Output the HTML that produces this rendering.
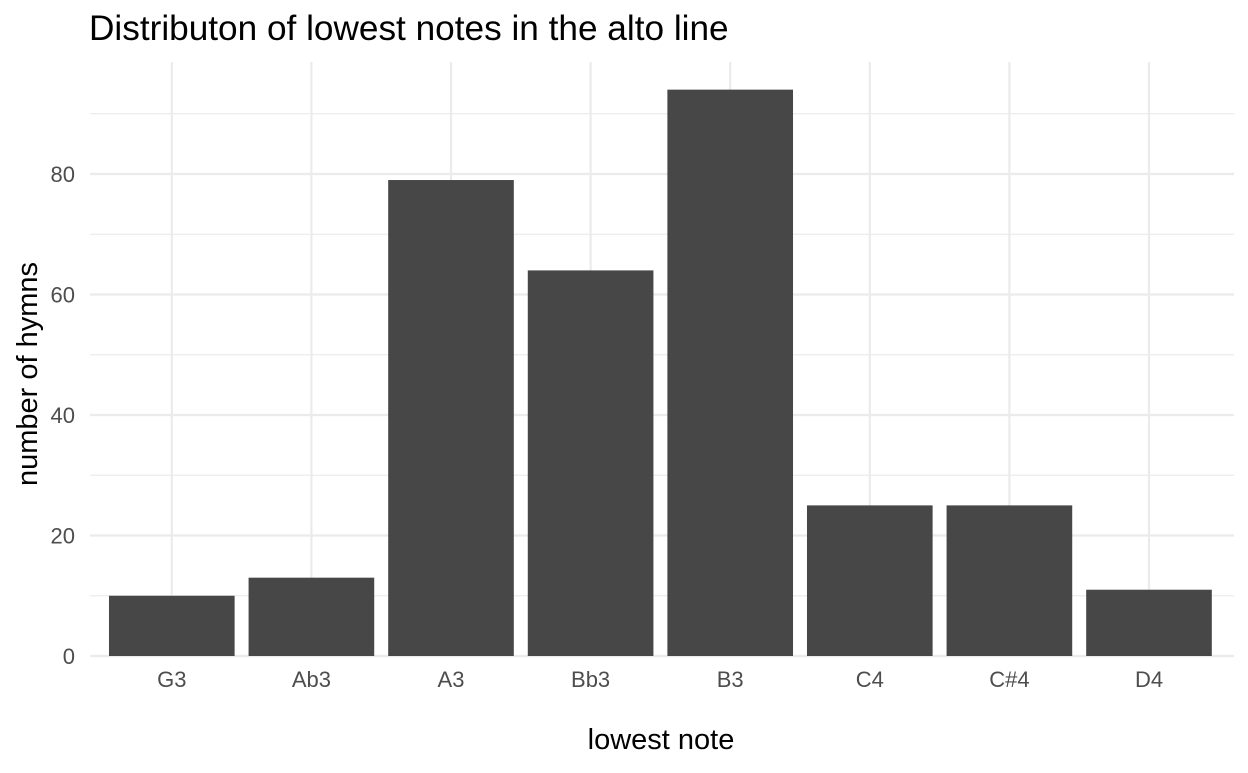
<!DOCTYPE html>
<html><head><meta charset="utf-8"><style>
body{margin:0;background:#fff;font-family:"Liberation Sans",Arial,sans-serif;}
</style></head><body>
<svg id="chart" width="1248" height="768" xmlns="http://www.w3.org/2000/svg">
<text x="89" y="40" font-size="35.2" fill="#000">Distributon of lowest notes in the alto line</text>
<g id="grid"></g><g id="bars"></g><g id="axes"></g>
<text x="661" y="749" font-size="29" text-anchor="middle" fill="#000">lowest note</text>
<text transform="translate(37,374) rotate(-90)" font-size="29" text-anchor="middle" fill="#000">number of hymns</text>
</svg>
<script>
const categories = ["G3","Ab3","A3","Bb3","B3","C4","C#4","D4"];
const counts = [10,13,79,64,94,25,25,11];
const yTicks = [0,20,40,60,80];
const NS="http://www.w3.org/2000/svg";
const x0=102, step=139.6, y0=656, unit=6.025;
function xs(i){return x0+step*(i+0.5);}
function ys(v){return y0-v*unit;}
function mk(tag,attrs,parent){const e=document.createElementNS(NS,tag);for(const k in attrs)e.setAttribute(k,attrs[k]);parent.appendChild(e);return e;}
const grid=document.getElementById('grid'),bars=document.getElementById('bars'),axes=document.getElementById('axes');
for(let v=10;v<=90;v+=20){const l=mk('line',{x1:90,x2:1234,y1:ys(v),y2:ys(v),stroke:'#ebebeb','stroke-width':1.2},grid);

}
yTicks.forEach(v=>{const l=mk('line',{x1:90,x2:1234,y1:ys(v),y2:ys(v),stroke:'#ebebeb','stroke-width':2.2},grid);


const t=mk('text',{x:75,y:ys(v)+8,'font-size':22,'text-anchor':'end',fill:'#4d4d4d'},axes);t.textContent=v;

});
categories.forEach((c,i)=>{const l=mk('line',{x1:xs(i),x2:xs(i),y1:62,y2:656,stroke:'#ebebeb','stroke-width':2.2},grid);


const w=step*0.9;
const r=mk('rect',{x:xs(i)-w/2,y:ys(counts[i]),width:w,height:counts[i]*unit,fill:'#474747'},bars);


const t=mk('text',{x:xs(i),y:687,'font-size':22,'text-anchor':'middle',fill:'#4d4d4d'},axes);t.textContent=c;

});
</script>
</body></html>
